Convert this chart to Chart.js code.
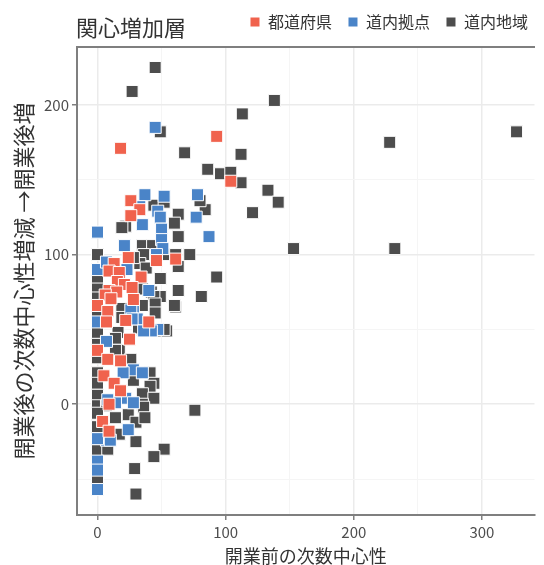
<!DOCTYPE html>
<html>
<head>
<meta charset="utf-8">
<script src="https://cdn.jsdelivr.net/npm/chart.js@4"></script>
<style>
  html, body { margin: 0; padding: 0; background: #fff; }
  #wrap { width: 544px; height: 565px; }
</style>
</head>
<body>
<div id="wrap"><canvas id="chart1" width="544" height="565"></canvas></div>
<script>
// series names
var categories = ['都道府県', '道内拠点', '道内地域'];
var seriesColors = ['#F0624D', '#4A84C8', '#4D4D4D'];

// [開業前の次数中心性, 開業後の次数中心性増減]
var prefPoints = [
    [18,171],[93,179],[104,149],[26,136],[33,130],[26,126],[24,98],[46,96],[61,97],[13,94],
    [9,89],[17,88],[34,85],[15.5,82],[21,80],[27,78],[9,76],[15,75],[6,73],[28,70],
    [10.5,70.5],[0,66],[8,62],[40,55],[22,56],[7,55],[25,43.5],[0,36],[8,30],[18,29],
    [5,19],[13,14],[18,9],[9,0],[4,-11.5],[9,-18]
];
var hubPoints = [
    [45,185],[37,140],[33,132],[52,139],[47,129],[49,125],[78,140],[77,125],[35,120],[50,117],
    [0,115],[87,112],[50,110],[21,106],[51,104],[46,100],[0,90],[23,90],[7,95],[40,76],
    [28,64],[26,63],[31,57],[27,57],[0,55],[47,50],[42,49],[36,49],[7,42],[28,23],
    [35,21],[20,21],[22,4],[28,1],[14,1],[8,3],[24,-17],[7,-24],[10,-24],[0,-38],
    [0,-44],[0,-57],[0,-23]
];
var areaPoints = [
    [45,225],[27,209],[138,203],[113,194],[49,182],[327,182],[228,175],[112,167],[68,168],[86,157],
    [96,154],[104,155],[112,148],[133,143],[141,135],[121,128],[84,130],[80,136],[153,104],[232,104],
    [93,85],[44,133],[52,135],[63,127],[22,119],[19,118],[60,121],[63,112],[35,106],[43,106],
    [0,100],[36,100],[33,94],[52,100],[61,100],[72,100],[63,92],[28,98],[38,91],[49,84],
    [0,78],[0,71],[35,77],[42,75],[49,72],[44,72],[63,76],[81,72],[61,65],[19,64],
    [35,66],[45,67],[60,66],[45,61],[0,60],[19,58],[54,49],[35,50],[45,49],[52,50],
    [32,51],[0,48],[16,48],[14,44],[17,36],[14,36],[26,30],[0,31],[0,21],[0,14],
    [0,6],[28,16],[41,21],[44,14],[41,12],[35,7],[44,4],[35,0],[0,-1],[7,-1],
    [36,-2],[14,-9],[24,-7],[30,-12],[37,-9],[17,-20],[0,-15],[0,-24],[0,-31],[8,-30],
    [30,-25],[52,-30],[44,-35],[76,-4],[29,-43],[0,-50],[30,-60],[0,-6],[0,40],[0,85]
];

// tick labels
var xTicks = [0, 100, 200, 300];
var yTicks = [0, 100, 200];

var allPoints = [prefPoints, hubPoints, areaPoints];

Chart.defaults.font.family = "'Noto Sans CJK JP', 'Noto Sans', sans-serif";

// chart title drawn next to the legend line
var titlePlugin = {
    id: 'leftTitle',
    afterDraw: function(chart) {
        var c = chart.ctx;
        c.save();
        c.font = "22px 'Noto Sans CJK JP', sans-serif";
        c.fillStyle = '#333333';
        c.textBaseline = 'middle';
        c.textAlign = 'left';
        c.fillText('関心増加層', 76, 28);
        c.restore();
    }
};

function onlyFifty(axis) {
    axis.ticks = axis.ticks.filter(function(t) { return Math.abs(t.value % 50) < 1e-6; });
}

function isMajor(c) {
    return c.tick && c.tick.value % 100 === 0;
}

var ctx = document.getElementById('chart1').getContext('2d');
var myChart = new Chart(ctx, {
    type: 'scatter',
    data: {
        datasets: categories.map(function(name, i) {
            return {
                label: name,
                data: allPoints[i].map(function(p) { return {x: p[0], y: p[1]}; }),
                backgroundColor: seriesColors[i],
                borderColor: '#ffffff',
                borderWidth: 1,
                pointStyle: 'rect',
                pointRadius: 8.5,
                pointHoverRadius: 8.5
            };
        })
    },
    options: {
        responsive: false,
        animation: false,
        layout: { padding: { top: -2, left: 0, right: 0, bottom: 0 } },
        plugins: {
            legend: {
                position: 'top',
                align: 'end',
                labels: {
                    boxWidth: 10,
                    boxHeight: 10,
                    padding: 16,
                    color: '#333333',
                    font: { size: 16 }
                }
            },
            tooltip: { enabled: false }
        },
        scales: {
            x: {
                type: 'linear',
                min: -16,
                max: 341,
                afterBuildTicks: onlyFifty,
                afterFit: function(s) { s.height = 50; },
                ticks: {
                    stepSize: 50,
                    includeBounds: false,
                    autoSkip: false,
                    maxRotation: 0,
                    padding: 3,
                    color: '#4D4D4D',
                    font: { size: 15 },
                    callback: function(v) { return xTicks.indexOf(v) >= 0 ? v : ''; }
                },
                grid: {
                    color: function(c) { return isMajor(c) ? '#EBEBEB' : '#F5F5F5'; },
                    lineWidth: function(c) { return isMajor(c) ? 1.5 : 1; },
                    tickColor: function(c) { return isMajor(c) ? '#7F7F7F' : 'rgba(0,0,0,0)'; },
                    tickLength: 5
                },
                border: { display: true, color: '#7F7F7F', width: 2 },
                title: {
                    display: true,
                    text: '開業前の次数中心性',
                    color: '#333333',
                    font: { size: 18, lineHeight: 1 },
                    padding: { top: 0, bottom: 0 }
                }
            },
            x2: {
                type: 'linear',
                position: 'top',
                afterFit: function(s) { s.height = 7; },
                ticks: { display: false },
                grid: { display: false, drawTicks: false },
                border: { display: true, color: '#7F7F7F', width: 2 }
            },
            y: {
                type: 'linear',
                min: -74,
                max: 238.7,
                afterBuildTicks: onlyFifty,
                afterFit: function(s) { s.width = 77; },
                ticks: {
                    stepSize: 50,
                    includeBounds: false,
                    autoSkip: false,
                    padding: 3,
                    color: '#4D4D4D',
                    font: { size: 15 },
                    callback: function(v) { return yTicks.indexOf(v) >= 0 ? v : ''; }
                },
                grid: {
                    color: function(c) { return isMajor(c) ? '#EBEBEB' : '#F5F5F5'; },
                    lineWidth: function(c) { return isMajor(c) ? 1.5 : 1; },
                    tickColor: function(c) { return isMajor(c) ? '#7F7F7F' : 'rgba(0,0,0,0)'; },
                    tickLength: 5
                },
                border: { display: true, color: '#7F7F7F', width: 2 },
                title: {
                    display: true,
                    text: '開業後の次数中心性増減 →開業後増',
                    color: '#333333',
                    font: { size: 22, lineHeight: 1.2 },
                    padding: { top: 10, bottom: 0 }
                }
            }
        }
    },
    plugins: [titlePlugin]
});
</script>
</body>
</html>
